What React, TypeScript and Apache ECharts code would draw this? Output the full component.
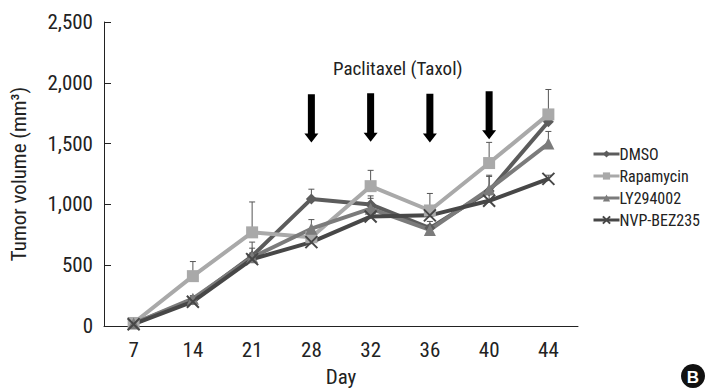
import React, { useEffect, useRef } from "react";
import * as echarts from "echarts";

const days = ["7", "14", "21", "28", "32", "36", "40", "44"];
const dmso = [20, 215, 575, 1045, 1000, 805, 1110, 1680];
const rapamycin = [25, 410, 770, 730, 1150, 950, 1340, 1740];
const ly294002 = [20, 225, 565, 800, 965, 790, 1125, 1500];
const nvp = [15, 200, 550, 690, 900, 910, 1030, 1210];
const dmsoTop = [null, 240, 640, 1125, 1070, 860, 1230, 1720];
const rapamycinTop = [null, 530, 1020, 760, 1280, 1090, 1510, 1945];
const lyTop = [null, 250, 690, 875, 1050, 830, 1240, 1600];
const nvpTop = [null, 220, 600, 720, 950, 940, 1080, 1240];
const arrowDays = ["28", "32", "36", "40"];
const arrowTop = [1905, 1915, 1910, 1930];
const arrowTip = [1510, 1515, 1510, 1535];
const yTicks = [0, 500, 1000, 1500, 2000, 2500];

const FONT = "'Liberation Sans Narrow', 'Arial Narrow', 'Roboto Condensed', sans-serif";

const series = [
  { name: "DMSO", data: dmso, top: dmsoTop, color: "#5c5c5c", symbol: "diamond", size: 11 },
  { name: "Rapamycin", data: rapamycin, top: rapamycinTop, color: "#a9a9a9", symbol: "rect", size: 12 },
  { name: "LY294002", data: ly294002, top: lyTop, color: "#7b7b7b", symbol: "triangle", size: 12 },
  { name: "NVP-BEZ235", data: nvp, top: nvpTop, color: "#474747", symbol: "path://M0,0L10,10M10,0L0,10", size: 12 },
];

export default function App() {
  const ref = useRef<HTMLDivElement>(null);
  useEffect(() => {
    document.body.style.margin = "0";
    const chart = echarts.init(ref.current!, null, { renderer: "svg" });
    const errSeries = series.map((s) => ({
      type: "custom",
      name: s.name + " err",
      z: 1,
      silent: true,
      data: s.data.map((v, i) => [i, v, s.top[i] == null ? v : s.top[i]]),
      renderItem: (params: any, api: any) => {
        const p0 = api.coord([api.value(0), api.value(1)]);
        const p1 = api.coord([api.value(0), api.value(2)]);
        if (Math.abs(p0[1] - p1[1]) < 1) return { type: "group", children: [] };
        const st = { stroke: "#555", lineWidth: 1 };
        return {
          type: "group",
          children: [
            { type: "line", shape: { x1: p0[0], y1: p0[1], x2: p1[0], y2: p1[1] }, style: st },
            { type: "line", shape: { x1: p1[0] - 3, y1: p1[1], x2: p1[0] + 3, y2: p1[1] }, style: st },
          ],
        };
      },
    }));
    const lineSeries = series.map((s) => ({
      type: "line",
      name: s.name,
      data: s.data,
      z: 3,
      symbol: s.symbol,
      symbolSize: s.size,
      showAllSymbol: true,
      lineStyle: { color: s.color, width: 4 },
      itemStyle:
        s.name === "NVP-BEZ235"
          ? { color: "none", borderColor: s.color, borderWidth: 2 }
          : { color: s.color, borderColor: s.color, borderWidth: 0 },
      emphasis: { disabled: true },
    }));
    const arrowSeries = {
      type: "custom",
      name: "arrows",
      z: 5,
      silent: true,
      data: arrowDays.map((d, i) => [days.indexOf(d), arrowTop[i], arrowTip[i]]),
      renderItem: (params: any, api: any) => {
        const a = api.coord([api.value(0), api.value(1)]);
        const b = api.coord([api.value(0), api.value(2)]);
        const x = a[0];
        const hh = 9;
        return {
          type: "polygon",
          shape: {
            points: [
              [x - 3.5, a[1]],
              [x + 3.5, a[1]],
              [x + 3.5, b[1] - hh],
              [x + 7, b[1] - hh],
              [x, b[1]],
              [x - 7, b[1] - hh],
              [x - 3.5, b[1] - hh],
            ],
          },
          style: { fill: "#000" },
        };
      },
    };
    chart.setOption({
      animation: false,
      textStyle: { fontFamily: FONT },
      grid: { left: 103, right: 131, top: 22, bottom: 64 },
      legend: {
        orient: "vertical",
        left: 592,
        top: 146,
        padding: 0,
        itemWidth: 26,
        itemHeight: 9,
        itemGap: 6,
        lineStyle: { width: 3 },
        textStyle: { fontFamily: FONT, fontSize: 16, color: "#222", padding: [0, 0, 0, -5] },
        data: series.map((s) => s.name),
      },
      xAxis: {
        type: "category",
        data: days,
        boundaryGap: true,
        name: "Day",
        nameLocation: "middle",
        nameGap: 40,
        nameTextStyle: { fontFamily: FONT, fontSize: 21, color: "#222" },
        axisLine: { lineStyle: { color: "#222", width: 1 } },
        axisTick: { inside: true, length: 7, lineStyle: { color: "#222" } },
        axisLabel: { fontFamily: FONT, fontSize: 21, color: "#222", margin: 13 },
      },
      yAxis: {
        type: "value",
        min: 0,
        max: 2500,
        interval: 500,
        name: "Tumor volume (mm³)",
        nameLocation: "middle",
        nameGap: 75,
        nameTextStyle: { fontFamily: FONT, fontSize: 21, color: "#222" },
        axisLine: { show: true, lineStyle: { color: "#222", width: 1 } },
        axisTick: { show: true, inside: true, length: 7, lineStyle: { color: "#222" } },
        splitLine: { show: false },
        axisLabel: {
          fontFamily: FONT,
          fontSize: 21,
          color: "#222",
          margin: 11,
          formatter: (v: number) => (yTicks.includes(v) ? v.toLocaleString("en-US") : ""),
        },
      },
      graphic: [
        {
          type: "text",
          left: 333,
          top: 59,
          style: { text: "Paclitaxel (Taxol)", fontFamily: FONT, fontSize: 19, fill: "#222" },
        },
        { type: "circle", shape: { cx: 693, cy: 376, r: 12 }, style: { fill: "#111" } },
        {
          type: "text",
          x: 693,
          y: 377,
          style: {
            text: "B",
            fontFamily: "'Liberation Sans', Arial, sans-serif",
            fontWeight: "bold",
            fontSize: 17,
            fill: "#fff",
            align: "center",
            verticalAlign: "middle",
          },
        },
      ],
      series: [...errSeries, ...lineSeries, arrowSeries],
    });
    return () => chart.dispose();
  }, []);
  return <div ref={ref} style={{ width: 709, height: 392 }} />;
}
